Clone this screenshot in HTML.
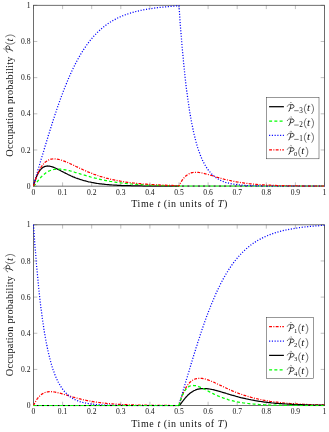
<!DOCTYPE html><html><head><meta charset="utf-8"><style>html,body{margin:0;padding:0;background:#fff}body{width:329px;height:432px;position:relative;overflow:hidden}</style></head><body><svg width="329" height="432" viewBox="0 0 329 432" style="position:absolute;left:0;top:0;will-change:transform">
<style>text{font-family:"Liberation Serif",serif;fill:#111}</style>
<path d="M33.50,186.15v-3.8M33.50,5.3v3.8" stroke="#808080" stroke-width="0.5"/>
<text x="33.50" y="194.55" font-size="7.6" text-anchor="middle">0</text>
<path d="M62.60,186.15v-3.8M62.60,5.3v3.8" stroke="#808080" stroke-width="0.5"/>
<text x="62.60" y="194.55" font-size="7.6" text-anchor="middle">0.1</text>
<path d="M91.70,186.15v-3.8M91.70,5.3v3.8" stroke="#808080" stroke-width="0.5"/>
<text x="91.70" y="194.55" font-size="7.6" text-anchor="middle">0.2</text>
<path d="M120.80,186.15v-3.8M120.80,5.3v3.8" stroke="#808080" stroke-width="0.5"/>
<text x="120.80" y="194.55" font-size="7.6" text-anchor="middle">0.3</text>
<path d="M149.90,186.15v-3.8M149.90,5.3v3.8" stroke="#808080" stroke-width="0.5"/>
<text x="149.90" y="194.55" font-size="7.6" text-anchor="middle">0.4</text>
<path d="M179.00,186.15v-3.8M179.00,5.3v3.8" stroke="#808080" stroke-width="0.5"/>
<text x="179.00" y="194.55" font-size="7.6" text-anchor="middle">0.5</text>
<path d="M208.10,186.15v-3.8M208.10,5.3v3.8" stroke="#808080" stroke-width="0.5"/>
<text x="208.10" y="194.55" font-size="7.6" text-anchor="middle">0.6</text>
<path d="M237.20,186.15v-3.8M237.20,5.3v3.8" stroke="#808080" stroke-width="0.5"/>
<text x="237.20" y="194.55" font-size="7.6" text-anchor="middle">0.7</text>
<path d="M266.30,186.15v-3.8M266.30,5.3v3.8" stroke="#808080" stroke-width="0.5"/>
<text x="266.30" y="194.55" font-size="7.6" text-anchor="middle">0.8</text>
<path d="M295.40,186.15v-3.8M295.40,5.3v3.8" stroke="#808080" stroke-width="0.5"/>
<text x="295.40" y="194.55" font-size="7.6" text-anchor="middle">0.9</text>
<path d="M324.50,186.15v-3.8M324.50,5.3v3.8" stroke="#808080" stroke-width="0.5"/>
<text x="324.50" y="194.55" font-size="7.6" text-anchor="middle">1</text>
<path d="M33.5,186.15h3.8M324.5,186.15h-3.8" stroke="#808080" stroke-width="0.5"/>
<text x="30.5" y="188.70" font-size="7.6" text-anchor="end">0</text>
<path d="M33.5,149.98h3.8M324.5,149.98h-3.8" stroke="#808080" stroke-width="0.5"/>
<text x="30.5" y="152.53" font-size="7.6" text-anchor="end">0.2</text>
<path d="M33.5,113.81h3.8M324.5,113.81h-3.8" stroke="#808080" stroke-width="0.5"/>
<text x="30.5" y="116.36" font-size="7.6" text-anchor="end">0.4</text>
<path d="M33.5,77.64h3.8M324.5,77.64h-3.8" stroke="#808080" stroke-width="0.5"/>
<text x="30.5" y="80.19" font-size="7.6" text-anchor="end">0.6</text>
<path d="M33.5,41.47h3.8M324.5,41.47h-3.8" stroke="#808080" stroke-width="0.5"/>
<text x="30.5" y="44.02" font-size="7.6" text-anchor="end">0.8</text>
<path d="M33.5,5.30h3.8M324.5,5.30h-3.8" stroke="#808080" stroke-width="0.5"/>
<text x="30.5" y="7.85" font-size="7.6" text-anchor="end">1</text>
<rect x="33.5" y="5.3" width="291.0" height="180.85" fill="none" stroke="#4a4a4a" stroke-width="0.8"/>
<clipPath id="c0"><rect x="32.8" y="4.6" width="292.4" height="182.25"/></clipPath>
<g clip-path="url(#c0)" fill="none" stroke-width="1.25">
<path d="M33.5 186.2L33.9 184.8L34.3 183.4L34.6 182.1L35.0 180.8L35.5 179.6L35.9 178.4L36.3 177.3L36.7 176.2L37.2 175.2L37.7 174.2L38.1 173.3L38.6 172.4L39.1 171.6L39.6 170.9L40.1 170.2L40.6 169.6L41.1 169.0L41.7 168.4L42.2 168.0L42.8 167.6L43.4 167.2L43.9 166.9L44.5 166.6L45.1 166.4L45.7 166.3L46.3 166.1L47.0 166.1L47.6 166.0L48.2 166.1L48.9 166.1L49.6 166.2L50.2 166.3L50.9 166.5L51.6 166.7L52.3 166.9L53.0 167.1L53.8 167.4L54.5 167.7L55.2 168.0L56.0 168.4L56.7 168.7L57.5 169.1L58.3 169.5L59.1 169.9L59.9 170.3L60.7 170.7L61.5 171.2L62.4 171.6L63.2 172.0L64.1 172.5L64.9 172.9L65.8 173.4L66.7 173.8L67.6 174.2L68.5 174.7L69.4 175.1L70.3 175.5L71.2 176.0L72.2 176.4L73.1 176.8L74.1 177.2L75.0 177.6L76.0 178.0L77.0 178.3L78.0 178.7L79.0 179.0L80.0 179.4L81.0 179.7L82.1 180.0L83.1 180.4L84.2 180.7L85.3 180.9L86.3 181.2L87.4 181.5L88.5 181.8L89.6 182.0L90.7 182.2L91.9 182.5L93.0 182.7L94.1 182.9L95.3 183.1L96.5 183.3L97.6 183.5L98.8 183.6L100.0 183.8L101.2 183.9L102.4 184.1L103.6 184.2L104.9 184.3L106.1 184.5L107.4 184.6L108.6 184.7L109.9 184.8L111.2 184.9L112.5 185.0L113.8 185.1L115.1 185.1L116.4 185.2L117.7 185.3L119.1 185.4L120.4 185.4L121.8 185.5L123.2 185.5L124.5 185.6L125.9 185.6L127.3 185.7L128.7 185.7L130.2 185.7L131.6 185.8L133.0 185.8L134.5 185.8L135.9 185.9L137.4 185.9L138.9 185.9L140.4 185.9L141.9 185.9L143.4 186.0L144.9 186.0L146.4 186.0L148.0 186.0L149.5 186.0L151.1 186.0L152.6 186.0L154.2 186.1L155.8 186.1L157.4 186.1L159.0 186.1L160.6 186.1L162.2 186.1L163.9 186.1L165.5 186.1L167.1 186.1L168.8 186.1L170.5 186.1L172.2 186.1L173.9 186.1L175.6 186.1L177.3 186.1L179.0 186.1" stroke="#000"/>
<path d="M179.0 186.2L179.4 186.2L179.8 186.2L180.1 186.2L180.5 186.2L181.0 186.2L181.4 186.2L181.8 186.2L182.2 186.2L182.7 186.2L183.2 186.2L183.6 186.2L184.1 186.2L184.6 186.2L185.1 186.2L185.6 186.2L186.1 186.2L186.6 186.2L187.2 186.2L187.7 186.2L188.3 186.2L188.9 186.2L189.4 186.2L190.0 186.2L190.6 186.2L191.2 186.2L191.8 186.2L192.5 186.2L193.1 186.2L193.7 186.2L194.4 186.2L195.1 186.2L195.7 186.2L196.4 186.2L197.1 186.2L197.8 186.2L198.5 186.2L199.3 186.2L200.0 186.2L200.7 186.2L201.5 186.2L202.2 186.2L203.0 186.2L203.8 186.2L204.6 186.2L205.4 186.2L206.2 186.2L207.0 186.2L207.9 186.2L208.7 186.2L209.6 186.2L210.4 186.2L211.3 186.2L212.2 186.2L213.1 186.2L214.0 186.2L214.9 186.2L215.8 186.2L216.7 186.2L217.7 186.2L218.6 186.2L219.6 186.2L220.5 186.2L221.5 186.2L222.5 186.2L223.5 186.2L224.5 186.2L225.5 186.2L226.5 186.2L227.6 186.2L228.6 186.2L229.7 186.2L230.8 186.2L231.8 186.2L232.9 186.2L234.0 186.2L235.1 186.2L236.2 186.2L237.4 186.2L238.5 186.2L239.6 186.2L240.8 186.2L242.0 186.2L243.1 186.2L244.3 186.2L245.5 186.2L246.7 186.2L247.9 186.2L249.1 186.2L250.4 186.2L251.6 186.2L252.9 186.2L254.1 186.2L255.4 186.2L256.7 186.2L258.0 186.2L259.3 186.2L260.6 186.2L261.9 186.2L263.2 186.2L264.6 186.2L265.9 186.2L267.3 186.2L268.7 186.2L270.0 186.2L271.4 186.2L272.8 186.2L274.2 186.2L275.7 186.2L277.1 186.2L278.5 186.2L280.0 186.2L281.4 186.2L282.9 186.2L284.4 186.2L285.9 186.2L287.4 186.2L288.9 186.2L290.4 186.2L291.9 186.2L293.5 186.2L295.0 186.2L296.6 186.2L298.1 186.2L299.7 186.2L301.3 186.2L302.9 186.2L304.5 186.2L306.1 186.2L307.7 186.2L309.4 186.2L311.0 186.2L312.6 186.2L314.3 186.2L316.0 186.2L317.7 186.2L319.4 186.2L321.1 186.2L322.8 186.2L324.5 186.2" stroke="#fff"/>
<path d="M179.0 186.2L179.4 186.2L179.8 186.2L180.1 186.2L180.5 186.2L181.0 186.2L181.4 186.2L181.8 186.2L182.2 186.2L182.7 186.2L183.2 186.2L183.6 186.2L184.1 186.2L184.6 186.2L185.1 186.2L185.6 186.2L186.1 186.2L186.6 186.2L187.2 186.2L187.7 186.2L188.3 186.2L188.9 186.2L189.4 186.2L190.0 186.2L190.6 186.2L191.2 186.2L191.8 186.2L192.5 186.2L193.1 186.2L193.7 186.2L194.4 186.2L195.1 186.2L195.7 186.2L196.4 186.2L197.1 186.2L197.8 186.2L198.5 186.2L199.3 186.2L200.0 186.2L200.7 186.2L201.5 186.2L202.2 186.2L203.0 186.2L203.8 186.2L204.6 186.2L205.4 186.2L206.2 186.2L207.0 186.2L207.9 186.2L208.7 186.2L209.6 186.2L210.4 186.2L211.3 186.2L212.2 186.2L213.1 186.2L214.0 186.2L214.9 186.2L215.8 186.2L216.7 186.2L217.7 186.2L218.6 186.2L219.6 186.2L220.5 186.2L221.5 186.2L222.5 186.2L223.5 186.2L224.5 186.2L225.5 186.2L226.5 186.2L227.6 186.2L228.6 186.2L229.7 186.2L230.8 186.2L231.8 186.2L232.9 186.2L234.0 186.2L235.1 186.2L236.2 186.2L237.4 186.2L238.5 186.2L239.6 186.2L240.8 186.2L242.0 186.2L243.1 186.2L244.3 186.2L245.5 186.2L246.7 186.2L247.9 186.2L249.1 186.2L250.4 186.2L251.6 186.2L252.9 186.2L254.1 186.2L255.4 186.2L256.7 186.2L258.0 186.2L259.3 186.2L260.6 186.2L261.9 186.2L263.2 186.2L264.6 186.2L265.9 186.2L267.3 186.2L268.7 186.2L270.0 186.2L271.4 186.2L272.8 186.2L274.2 186.2L275.7 186.2L277.1 186.2L278.5 186.2L280.0 186.2L281.4 186.2L282.9 186.2L284.4 186.2L285.9 186.2L287.4 186.2L288.9 186.2L290.4 186.2L291.9 186.2L293.5 186.2L295.0 186.2L296.6 186.2L298.1 186.2L299.7 186.2L301.3 186.2L302.9 186.2L304.5 186.2L306.1 186.2L307.7 186.2L309.4 186.2L311.0 186.2L312.6 186.2L314.3 186.2L316.0 186.2L317.7 186.2L319.4 186.2L321.1 186.2L322.8 186.2L324.5 186.2" stroke="#000" stroke-dasharray="2.25 3" stroke-dashoffset="2.25"/>
<path d="M33.5 186.2L33.9 185.9L34.3 185.5L34.6 185.1L35.0 184.6L35.5 184.1L35.9 183.5L36.3 183.0L36.7 182.4L37.2 181.8L37.7 181.2L38.1 180.6L38.6 180.0L39.1 179.4L39.6 178.8L40.1 178.2L40.6 177.6L41.1 177.0L41.7 176.5L42.2 175.9L42.8 175.4L43.4 174.9L43.9 174.4L44.5 173.9L45.1 173.4L45.7 173.0L46.3 172.6L47.0 172.2L47.6 171.8L48.2 171.4L48.9 171.1L49.6 170.8L50.2 170.5L50.9 170.3L51.6 170.0L52.3 169.8L53.0 169.6L53.8 169.5L54.5 169.4L55.2 169.3L56.0 169.2L56.7 169.1L57.5 169.1L58.3 169.1L59.1 169.1L59.9 169.1L60.7 169.2L61.5 169.3L62.4 169.4L63.2 169.5L64.1 169.6L64.9 169.8L65.8 169.9L66.7 170.1L67.6 170.3L68.5 170.5L69.4 170.7L70.3 171.0L71.2 171.2L72.2 171.5L73.1 171.8L74.1 172.0L75.0 172.3L76.0 172.6L77.0 172.9L78.0 173.2L79.0 173.5L80.0 173.8L81.0 174.1L82.1 174.4L83.1 174.8L84.2 175.1L85.3 175.4L86.3 175.7L87.4 176.0L88.5 176.3L89.6 176.6L90.7 177.0L91.9 177.3L93.0 177.6L94.1 177.9L95.3 178.2L96.5 178.4L97.6 178.7L98.8 179.0L100.0 179.3L101.2 179.6L102.4 179.8L103.6 180.1L104.9 180.3L106.1 180.6L107.4 180.8L108.6 181.0L109.9 181.3L111.2 181.5L112.5 181.7L113.8 181.9L115.1 182.1L116.4 182.3L117.7 182.5L119.1 182.7L120.4 182.8L121.8 183.0L123.2 183.2L124.5 183.3L125.9 183.5L127.3 183.6L128.7 183.7L130.2 183.9L131.6 184.0L133.0 184.1L134.5 184.2L135.9 184.3L137.4 184.4L138.9 184.5L140.4 184.6L141.9 184.7L143.4 184.8L144.9 184.9L146.4 185.0L148.0 185.0L149.5 185.1L151.1 185.2L152.6 185.2L154.2 185.3L155.8 185.3L157.4 185.4L159.0 185.4L160.6 185.5L162.2 185.5L163.9 185.6L165.5 185.6L167.1 185.7L168.8 185.7L170.5 185.7L172.2 185.7L173.9 185.8L175.6 185.8L177.3 185.8L179.0 185.9" stroke="#00ff00" stroke-dasharray="3 2.25"/>
<path d="M179.0 186.2L179.4 186.2L179.8 186.2L180.1 186.2L180.5 186.2L181.0 186.2L181.4 186.2L181.8 186.2L182.2 186.2L182.7 186.2L183.2 186.2L183.6 186.2L184.1 186.2L184.6 186.2L185.1 186.2L185.6 186.2L186.1 186.2L186.6 186.2L187.2 186.2L187.7 186.2L188.3 186.2L188.9 186.2L189.4 186.2L190.0 186.2L190.6 186.2L191.2 186.2L191.8 186.2L192.5 186.2L193.1 186.2L193.7 186.2L194.4 186.2L195.1 186.2L195.7 186.2L196.4 186.2L197.1 186.2L197.8 186.2L198.5 186.2L199.3 186.2L200.0 186.2L200.7 186.2L201.5 186.2L202.2 186.2L203.0 186.2L203.8 186.2L204.6 186.2L205.4 186.2L206.2 186.2L207.0 186.2L207.9 186.2L208.7 186.2L209.6 186.2L210.4 186.2L211.3 186.2L212.2 186.2L213.1 186.2L214.0 186.2L214.9 186.2L215.8 186.2L216.7 186.2L217.7 186.2L218.6 186.2L219.6 186.2L220.5 186.2L221.5 186.2L222.5 186.2L223.5 186.2L224.5 186.2L225.5 186.2L226.5 186.2L227.6 186.2L228.6 186.2L229.7 186.2L230.8 186.2L231.8 186.2L232.9 186.2L234.0 186.2L235.1 186.2L236.2 186.2L237.4 186.2L238.5 186.2L239.6 186.2L240.8 186.2L242.0 186.2L243.1 186.2L244.3 186.2L245.5 186.2L246.7 186.2L247.9 186.2L249.1 186.2L250.4 186.2L251.6 186.2L252.9 186.2L254.1 186.2L255.4 186.2L256.7 186.2L258.0 186.2L259.3 186.2L260.6 186.2L261.9 186.2L263.2 186.2L264.6 186.2L265.9 186.2L267.3 186.2L268.7 186.2L270.0 186.2L271.4 186.2L272.8 186.2L274.2 186.2L275.7 186.2L277.1 186.2L278.5 186.2L280.0 186.2L281.4 186.2L282.9 186.2L284.4 186.2L285.9 186.2L287.4 186.2L288.9 186.2L290.4 186.2L291.9 186.2L293.5 186.2L295.0 186.2L296.6 186.2L298.1 186.2L299.7 186.2L301.3 186.2L302.9 186.2L304.5 186.2L306.1 186.2L307.7 186.2L309.4 186.2L311.0 186.2L312.6 186.2L314.3 186.2L316.0 186.2L317.7 186.2L319.4 186.2L321.1 186.2L322.8 186.2L324.5 186.2" stroke="#00ff00" stroke-dasharray="3 2.25"/>
<path d="M33.5 186.2L33.9 184.6L34.3 183.1L34.6 181.6L35.0 180.2L35.5 178.7L35.9 177.2L36.3 175.7L36.7 174.2L37.2 172.7L37.7 171.1L38.1 169.5L38.6 167.9L39.1 166.3L39.6 164.6L40.1 162.9L40.6 161.2L41.1 159.4L41.7 157.6L42.2 155.8L42.8 154.0L43.4 152.1L43.9 150.2L44.5 148.2L45.1 146.3L45.7 144.3L46.3 142.2L47.0 140.2L47.6 138.1L48.2 136.0L48.9 133.9L49.6 131.8L50.2 129.6L50.9 127.4L51.6 125.2L52.3 123.0L53.0 120.8L53.8 118.6L54.5 116.3L55.2 114.1L56.0 111.8L56.7 109.6L57.5 107.3L58.3 105.0L59.1 102.8L59.9 100.5L60.7 98.3L61.5 96.1L62.4 93.8L63.2 91.6L64.1 89.4L64.9 87.2L65.8 85.0L66.7 82.9L67.6 80.8L68.5 78.6L69.4 76.5L70.3 74.5L71.2 72.4L72.2 70.4L73.1 68.4L74.1 66.5L75.0 64.6L76.0 62.7L77.0 60.8L78.0 59.0L79.0 57.2L80.0 55.4L81.0 53.7L82.1 52.0L83.1 50.3L84.2 48.7L85.3 47.1L86.3 45.6L87.4 44.1L88.5 42.6L89.6 41.2L90.7 39.8L91.9 38.4L93.0 37.1L94.1 35.8L95.3 34.6L96.5 33.4L97.6 32.2L98.8 31.1L100.0 30.0L101.2 28.9L102.4 27.9L103.6 26.9L104.9 25.9L106.1 25.0L107.4 24.1L108.6 23.2L109.9 22.4L111.2 21.6L112.5 20.8L113.8 20.1L115.1 19.4L116.4 18.7L117.7 18.0L119.1 17.4L120.4 16.8L121.8 16.2L123.2 15.6L124.5 15.1L125.9 14.6L127.3 14.1L128.7 13.6L130.2 13.2L131.6 12.7L133.0 12.3L134.5 11.9L135.9 11.5L137.4 11.2L138.9 10.8L140.4 10.5L141.9 10.2L143.4 9.9L144.9 9.6L146.4 9.3L148.0 9.1L149.5 8.8L151.1 8.6L152.6 8.4L154.2 8.1L155.8 7.9L157.4 7.7L159.0 7.5L160.6 7.4L162.2 7.2L163.9 7.0L165.5 6.9L167.1 6.7L168.8 6.6L170.5 6.4L172.2 6.3L173.9 6.2L175.6 6.0L177.3 5.9L179.0 5.8L179.0 5.8L179.4 11.2L179.8 16.7L180.1 22.0L180.5 27.4L181.0 32.7L181.4 37.9L181.8 43.0L182.2 48.1L182.7 53.2L183.2 58.1L183.6 63.0L184.1 67.7L184.6 72.4L185.1 77.0L185.6 81.5L186.1 85.9L186.6 90.1L187.2 94.3L187.7 98.4L188.3 102.3L188.9 106.1L189.4 109.8L190.0 113.5L190.6 116.9L191.2 120.3L191.8 123.6L192.5 126.7L193.1 129.8L193.7 132.7L194.4 135.5L195.1 138.2L195.7 140.8L196.4 143.3L197.1 145.7L197.8 148.0L198.5 150.1L199.3 152.2L200.0 154.2L200.7 156.1L201.5 157.9L202.2 159.6L203.0 161.3L203.8 162.8L204.6 164.3L205.4 165.7L206.2 167.0L207.0 168.3L207.9 169.5L208.7 170.6L209.6 171.6L210.4 172.6L211.3 173.6L212.2 174.5L213.1 175.3L214.0 176.1L214.9 176.8L215.8 177.5L216.7 178.1L217.7 178.7L218.6 179.3L219.6 179.8L220.5 180.3L221.5 180.7L222.5 181.2L223.5 181.6L224.5 181.9L225.5 182.3L226.5 182.6L227.6 182.9L228.6 183.1L229.7 183.4L230.8 183.6L231.8 183.8L232.9 184.0L234.0 184.2L235.1 184.4L236.2 184.5L237.4 184.7L238.5 184.8L239.6 184.9L240.8 185.0L242.0 185.1L243.1 185.2L244.3 185.3L245.5 185.4L246.7 185.5L247.9 185.5L249.1 185.6L250.4 185.6L251.6 185.7L252.9 185.7L254.1 185.8L255.4 185.8L256.7 185.9L258.0 185.9L259.3 185.9L260.6 185.9L261.9 186.0L263.2 186.0L264.6 186.0L265.9 186.0L267.3 186.0L268.7 186.0L270.0 186.1L271.4 186.1L272.8 186.1L274.2 186.1L275.7 186.1L277.1 186.1L278.5 186.1L280.0 186.1L281.4 186.1L282.9 186.1L284.4 186.1L285.9 186.1L287.4 186.1L288.9 186.1L290.4 186.1L291.9 186.1L293.5 186.1L295.0 186.1L296.6 186.1L298.1 186.1L299.7 186.1L301.3 186.1L302.9 186.1L304.5 186.1L306.1 186.1L307.7 186.1L309.4 186.1L311.0 186.1L312.6 186.1L314.3 186.1L316.0 186.1L317.7 186.1L319.4 186.1L321.1 186.1L322.8 186.1L324.5 186.1" stroke="#0000ff" stroke-dasharray="1.1 1.65"/>
<path d="M33.5 186.2L33.9 184.8L34.3 183.5L34.6 182.2L35.0 181.0L35.5 179.7L35.9 178.5L36.3 177.3L36.7 176.1L37.2 175.0L37.7 173.9L38.1 172.8L38.6 171.8L39.1 170.8L39.6 169.8L40.1 168.9L40.6 168.0L41.1 167.1L41.7 166.3L42.2 165.6L42.8 164.8L43.4 164.1L43.9 163.5L44.5 162.9L45.1 162.3L45.7 161.8L46.3 161.4L47.0 160.9L47.6 160.5L48.2 160.2L48.9 159.9L49.6 159.6L50.2 159.4L50.9 159.2L51.6 159.1L52.3 159.0L53.0 158.9L53.8 158.8L54.5 158.8L55.2 158.9L56.0 158.9L56.7 159.0L57.5 159.2L58.3 159.3L59.1 159.5L59.9 159.7L60.7 159.9L61.5 160.2L62.4 160.5L63.2 160.8L64.1 161.1L64.9 161.4L65.8 161.8L66.7 162.1L67.6 162.5L68.5 162.9L69.4 163.3L70.3 163.8L71.2 164.2L72.2 164.6L73.1 165.1L74.1 165.5L75.0 166.0L76.0 166.5L77.0 166.9L78.0 167.4L79.0 167.9L80.0 168.4L81.0 168.8L82.1 169.3L83.1 169.8L84.2 170.3L85.3 170.7L86.3 171.2L87.4 171.6L88.5 172.1L89.6 172.5L90.7 173.0L91.9 173.4L93.0 173.9L94.1 174.3L95.3 174.7L96.5 175.1L97.6 175.5L98.8 175.9L100.0 176.3L101.2 176.6L102.4 177.0L103.6 177.4L104.9 177.7L106.1 178.1L107.4 178.4L108.6 178.7L109.9 179.0L111.2 179.3L112.5 179.6L113.8 179.9L115.1 180.2L116.4 180.4L117.7 180.7L119.1 180.9L120.4 181.2L121.8 181.4L123.2 181.6L124.5 181.9L125.9 182.1L127.3 182.3L128.7 182.4L130.2 182.6L131.6 182.8L133.0 183.0L134.5 183.1L135.9 183.3L137.4 183.4L138.9 183.6L140.4 183.7L141.9 183.9L143.4 184.0L144.9 184.1L146.4 184.2L148.0 184.3L149.5 184.4L151.1 184.5L152.6 184.6L154.2 184.7L155.8 184.8L157.4 184.9L159.0 184.9L160.6 185.0L162.2 185.1L163.9 185.1L165.5 185.2L167.1 185.3L168.8 185.3L170.5 185.4L172.2 185.4L173.9 185.5L175.6 185.5L177.3 185.5L179.0 185.6L179.0 186.2L179.4 185.3L179.8 184.5L180.1 183.8L180.5 183.0L181.0 182.3L181.4 181.5L181.8 180.8L182.2 180.2L182.7 179.5L183.2 178.9L183.6 178.3L184.1 177.7L184.6 177.2L185.1 176.7L185.6 176.2L186.1 175.7L186.6 175.3L187.2 174.9L187.7 174.5L188.3 174.2L188.9 173.9L189.4 173.6L190.0 173.3L190.6 173.1L191.2 172.9L191.8 172.7L192.5 172.6L193.1 172.5L193.7 172.4L194.4 172.3L195.1 172.3L195.7 172.3L196.4 172.3L197.1 172.3L197.8 172.3L198.5 172.4L199.3 172.5L200.0 172.6L200.7 172.7L201.5 172.9L202.2 173.0L203.0 173.2L203.8 173.4L204.6 173.6L205.4 173.8L206.2 174.0L207.0 174.2L207.9 174.5L208.7 174.7L209.6 174.9L210.4 175.2L211.3 175.5L212.2 175.7L213.1 176.0L214.0 176.3L214.9 176.5L215.8 176.8L216.7 177.1L217.7 177.4L218.6 177.6L219.6 177.9L220.5 178.2L221.5 178.5L222.5 178.7L223.5 179.0L224.5 179.3L225.5 179.5L226.5 179.8L227.6 180.0L228.6 180.3L229.7 180.5L230.8 180.7L231.8 181.0L232.9 181.2L234.0 181.4L235.1 181.6L236.2 181.8L237.4 182.0L238.5 182.2L239.6 182.4L240.8 182.6L242.0 182.7L243.1 182.9L244.3 183.1L245.5 183.2L246.7 183.4L247.9 183.5L249.1 183.7L250.4 183.8L251.6 183.9L252.9 184.1L254.1 184.2L255.4 184.3L256.7 184.4L258.0 184.5L259.3 184.6L260.6 184.7L261.9 184.8L263.2 184.9L264.6 184.9L265.9 185.0L267.3 185.1L268.7 185.2L270.0 185.2L271.4 185.3L272.8 185.3L274.2 185.4L275.7 185.4L277.1 185.5L278.5 185.5L280.0 185.6L281.4 185.6L282.9 185.7L284.4 185.7L285.9 185.7L287.4 185.8L288.9 185.8L290.4 185.8L291.9 185.8L293.5 185.9L295.0 185.9L296.6 185.9L298.1 185.9L299.7 185.9L301.3 186.0L302.9 186.0L304.5 186.0L306.1 186.0L307.7 186.0L309.4 186.0L311.0 186.0L312.6 186.0L314.3 186.0L316.0 186.1L317.7 186.1L319.4 186.1L321.1 186.1L322.8 186.1L324.5 186.1" stroke="#ff0000" stroke-dasharray="2.9 1.35 1.0 1.35"/>
</g>
<text x="179.25" y="207.35" font-size="10" text-anchor="middle" textLength="96" lengthAdjust="spacing">Time <tspan font-style="italic">t</tspan> (in units of <tspan font-style="italic">T</tspan>)</text>
<g transform="translate(12.8,156.73) rotate(-90)">
<text x="0" y="0" font-size="10.3" textLength="100.2" lengthAdjust="spacing">Occupation probability</text>
<g transform="translate(104.00,0.00) scale(1.0)" fill="none" stroke="#111" stroke-linecap="round" stroke-linejoin="round"><path d="M3.9,-6.5 C3.6,-4.4 3.0,-2.1 2.3,-0.5 C2.2,-0.3 2.0,-0.2 1.8,-0.2" stroke-width="0.85"/><path d="M0.3,-5.1 C0.5,-6.2 1.9,-6.9 3.9,-6.9 C4.9,-6.9 5.6,-6.75 6.1,-6.5" stroke-width="0.6"/><path d="M5.6,-6.7 C6.5,-6.4 7.0,-5.8 7.0,-5.0 C7.0,-3.7 5.6,-2.9 3.3,-3.0" stroke-width="0.78"/><path d="M3.2,-8.5 L3.9,-9.2 L4.6,-8.5" stroke-width="0.45"/></g>
<path d="M114.50,-7.50C113.20,-5.80 112.60,-4.20 112.60,-2.50C112.60,-0.80 113.20,0.80 114.50,2.50" fill="none" stroke="#111" stroke-width="0.6"/><text x="115.20" y="0.00" font-size="11" font-style="italic">t</text><path d="M119.80,-7.50C121.10,-5.80 121.70,-4.20 121.70,-2.50C121.70,-0.80 121.10,0.80 119.80,2.50" fill="none" stroke="#111" stroke-width="0.6"/>
</g>
<path d="M33.50,405.55v-3.8M33.50,224.8v3.8" stroke="#808080" stroke-width="0.5"/>
<text x="33.50" y="413.95" font-size="7.6" text-anchor="middle">0</text>
<path d="M62.60,405.55v-3.8M62.60,224.8v3.8" stroke="#808080" stroke-width="0.5"/>
<text x="62.60" y="413.95" font-size="7.6" text-anchor="middle">0.1</text>
<path d="M91.70,405.55v-3.8M91.70,224.8v3.8" stroke="#808080" stroke-width="0.5"/>
<text x="91.70" y="413.95" font-size="7.6" text-anchor="middle">0.2</text>
<path d="M120.80,405.55v-3.8M120.80,224.8v3.8" stroke="#808080" stroke-width="0.5"/>
<text x="120.80" y="413.95" font-size="7.6" text-anchor="middle">0.3</text>
<path d="M149.90,405.55v-3.8M149.90,224.8v3.8" stroke="#808080" stroke-width="0.5"/>
<text x="149.90" y="413.95" font-size="7.6" text-anchor="middle">0.4</text>
<path d="M179.00,405.55v-3.8M179.00,224.8v3.8" stroke="#808080" stroke-width="0.5"/>
<text x="179.00" y="413.95" font-size="7.6" text-anchor="middle">0.5</text>
<path d="M208.10,405.55v-3.8M208.10,224.8v3.8" stroke="#808080" stroke-width="0.5"/>
<text x="208.10" y="413.95" font-size="7.6" text-anchor="middle">0.6</text>
<path d="M237.20,405.55v-3.8M237.20,224.8v3.8" stroke="#808080" stroke-width="0.5"/>
<text x="237.20" y="413.95" font-size="7.6" text-anchor="middle">0.7</text>
<path d="M266.30,405.55v-3.8M266.30,224.8v3.8" stroke="#808080" stroke-width="0.5"/>
<text x="266.30" y="413.95" font-size="7.6" text-anchor="middle">0.8</text>
<path d="M295.40,405.55v-3.8M295.40,224.8v3.8" stroke="#808080" stroke-width="0.5"/>
<text x="295.40" y="413.95" font-size="7.6" text-anchor="middle">0.9</text>
<path d="M324.50,405.55v-3.8M324.50,224.8v3.8" stroke="#808080" stroke-width="0.5"/>
<text x="324.50" y="413.95" font-size="7.6" text-anchor="middle">1</text>
<path d="M33.5,405.55h3.8M324.5,405.55h-3.8" stroke="#808080" stroke-width="0.5"/>
<text x="30.5" y="408.10" font-size="7.6" text-anchor="end">0</text>
<path d="M33.5,369.40h3.8M324.5,369.40h-3.8" stroke="#808080" stroke-width="0.5"/>
<text x="30.5" y="371.95" font-size="7.6" text-anchor="end">0.2</text>
<path d="M33.5,333.25h3.8M324.5,333.25h-3.8" stroke="#808080" stroke-width="0.5"/>
<text x="30.5" y="335.80" font-size="7.6" text-anchor="end">0.4</text>
<path d="M33.5,297.10h3.8M324.5,297.10h-3.8" stroke="#808080" stroke-width="0.5"/>
<text x="30.5" y="299.65" font-size="7.6" text-anchor="end">0.6</text>
<path d="M33.5,260.95h3.8M324.5,260.95h-3.8" stroke="#808080" stroke-width="0.5"/>
<text x="30.5" y="263.50" font-size="7.6" text-anchor="end">0.8</text>
<path d="M33.5,224.80h3.8M324.5,224.80h-3.8" stroke="#808080" stroke-width="0.5"/>
<text x="30.5" y="227.35" font-size="7.6" text-anchor="end">1</text>
<rect x="33.5" y="224.8" width="291.0" height="180.75" fill="none" stroke="#4a4a4a" stroke-width="0.8"/>
<clipPath id="c1"><rect x="32.8" y="224.10000000000002" width="292.4" height="182.15"/></clipPath>
<g clip-path="url(#c1)" fill="none" stroke-width="1.25">
<path d="M33.5 405.6L33.9 405.6L34.3 405.6L34.6 405.6L35.0 405.6L35.5 405.6L35.9 405.6L36.3 405.6L36.7 405.6L37.2 405.6L37.7 405.6L38.1 405.6L38.6 405.6L39.1 405.6L39.6 405.6L40.1 405.6L40.6 405.6L41.1 405.6L41.7 405.6L42.2 405.6L42.8 405.6L43.4 405.6L43.9 405.6L44.5 405.6L45.1 405.6L45.7 405.6L46.3 405.6L47.0 405.6L47.6 405.6L48.2 405.6L48.9 405.6L49.6 405.6L50.2 405.6L50.9 405.6L51.6 405.6L52.3 405.6L53.0 405.6L53.8 405.6L54.5 405.6L55.2 405.6L56.0 405.6L56.7 405.6L57.5 405.6L58.3 405.6L59.1 405.6L59.9 405.6L60.7 405.6L61.5 405.6L62.4 405.6L63.2 405.6L64.1 405.6L64.9 405.6L65.8 405.6L66.7 405.6L67.6 405.6L68.5 405.6L69.4 405.6L70.3 405.6L71.2 405.6L72.2 405.6L73.1 405.6L74.1 405.6L75.0 405.6L76.0 405.6L77.0 405.6L78.0 405.6L79.0 405.6L80.0 405.6L81.0 405.6L82.1 405.6L83.1 405.6L84.2 405.6L85.3 405.6L86.3 405.6L87.4 405.6L88.5 405.6L89.6 405.6L90.7 405.6L91.9 405.6L93.0 405.6L94.1 405.6L95.3 405.6L96.5 405.6L97.6 405.6L98.8 405.6L100.0 405.6L101.2 405.6L102.4 405.6L103.6 405.6L104.9 405.6L106.1 405.6L107.4 405.6L108.6 405.6L109.9 405.6L111.2 405.6L112.5 405.6L113.8 405.6L115.1 405.6L116.4 405.6L117.7 405.6L119.1 405.6L120.4 405.6L121.8 405.6L123.2 405.6L124.5 405.6L125.9 405.6L127.3 405.6L128.7 405.6L130.2 405.6L131.6 405.6L133.0 405.6L134.5 405.6L135.9 405.6L137.4 405.6L138.9 405.6L140.4 405.6L141.9 405.6L143.4 405.6L144.9 405.6L146.4 405.6L148.0 405.6L149.5 405.6L151.1 405.6L152.6 405.6L154.2 405.6L155.8 405.6L157.4 405.6L159.0 405.6L160.6 405.6L162.2 405.6L163.9 405.6L165.5 405.6L167.1 405.6L168.8 405.6L170.5 405.6L172.2 405.6L173.9 405.6L175.6 405.6L177.3 405.6L179.0 405.6" stroke="#fff"/>
<path d="M33.5 405.6L33.9 404.7L34.3 403.9L34.6 403.2L35.0 402.4L35.5 401.7L35.9 400.9L36.3 400.3L36.7 399.6L37.2 398.9L37.7 398.3L38.1 397.7L38.6 397.1L39.1 396.6L39.6 396.1L40.1 395.6L40.6 395.1L41.1 394.7L41.7 394.3L42.2 393.9L42.8 393.6L43.4 393.3L43.9 393.0L44.5 392.7L45.1 392.5L45.7 392.3L46.3 392.1L47.0 392.0L47.6 391.9L48.2 391.8L48.9 391.7L49.6 391.7L50.2 391.7L50.9 391.7L51.6 391.7L52.3 391.8L53.0 391.8L53.8 391.9L54.5 392.0L55.2 392.1L56.0 392.3L56.7 392.4L57.5 392.6L58.3 392.8L59.1 393.0L59.9 393.2L60.7 393.4L61.5 393.6L62.4 393.9L63.2 394.1L64.1 394.4L64.9 394.6L65.8 394.9L66.7 395.1L67.6 395.4L68.5 395.7L69.4 395.9L70.3 396.2L71.2 396.5L72.2 396.8L73.1 397.1L74.1 397.3L75.0 397.6L76.0 397.9L77.0 398.1L78.0 398.4L79.0 398.7L80.0 398.9L81.0 399.2L82.1 399.4L83.1 399.7L84.2 399.9L85.3 400.1L86.3 400.4L87.4 400.6L88.5 400.8L89.6 401.0L90.7 401.2L91.9 401.4L93.0 401.6L94.1 401.8L95.3 402.0L96.5 402.2L97.6 402.3L98.8 402.5L100.0 402.6L101.2 402.8L102.4 402.9L103.6 403.1L104.9 403.2L106.1 403.3L107.4 403.5L108.6 403.6L109.9 403.7L111.2 403.8L112.5 403.9L113.8 404.0L115.1 404.1L116.4 404.2L117.7 404.3L119.1 404.3L120.4 404.4L121.8 404.5L123.2 404.6L124.5 404.6L125.9 404.7L127.3 404.7L128.7 404.8L130.2 404.8L131.6 404.9L133.0 404.9L134.5 405.0L135.9 405.0L137.4 405.1L138.9 405.1L140.4 405.1L141.9 405.2L143.4 405.2L144.9 405.2L146.4 405.2L148.0 405.3L149.5 405.3L151.1 405.3L152.6 405.3L154.2 405.3L155.8 405.4L157.4 405.4L159.0 405.4L160.6 405.4L162.2 405.4L163.9 405.4L165.5 405.4L167.1 405.4L168.8 405.4L170.5 405.5L172.2 405.5L173.9 405.5L175.6 405.5L177.3 405.5L179.0 405.5L179.0 405.6L179.4 404.2L179.8 402.9L180.1 401.6L180.5 400.4L181.0 399.1L181.4 397.9L181.8 396.7L182.2 395.6L182.7 394.4L183.2 393.3L183.6 392.2L184.1 391.2L184.6 390.2L185.1 389.2L185.6 388.3L186.1 387.4L186.6 386.6L187.2 385.7L187.7 385.0L188.3 384.2L188.9 383.6L189.4 382.9L190.0 382.3L190.6 381.8L191.2 381.2L191.8 380.8L192.5 380.3L193.1 380.0L193.7 379.6L194.4 379.3L195.1 379.0L195.7 378.8L196.4 378.6L197.1 378.5L197.8 378.4L198.5 378.3L199.3 378.3L200.0 378.3L200.7 378.3L201.5 378.3L202.2 378.4L203.0 378.6L203.8 378.7L204.6 378.9L205.4 379.1L206.2 379.3L207.0 379.6L207.9 379.9L208.7 380.2L209.6 380.5L210.4 380.8L211.3 381.2L212.2 381.6L213.1 381.9L214.0 382.3L214.9 382.8L215.8 383.2L216.7 383.6L217.7 384.1L218.6 384.5L219.6 385.0L220.5 385.4L221.5 385.9L222.5 386.4L223.5 386.8L224.5 387.3L225.5 387.8L226.5 388.2L227.6 388.7L228.6 389.2L229.7 389.7L230.8 390.1L231.8 390.6L232.9 391.1L234.0 391.5L235.1 392.0L236.2 392.4L237.4 392.8L238.5 393.3L239.6 393.7L240.8 394.1L242.0 394.5L243.1 394.9L244.3 395.3L245.5 395.7L246.7 396.1L247.9 396.4L249.1 396.8L250.4 397.1L251.6 397.5L252.9 397.8L254.1 398.1L255.4 398.4L256.7 398.7L258.0 399.0L259.3 399.3L260.6 399.6L261.9 399.8L263.2 400.1L264.6 400.3L265.9 400.6L267.3 400.8L268.7 401.0L270.0 401.3L271.4 401.5L272.8 401.7L274.2 401.9L275.7 402.0L277.1 402.2L278.5 402.4L280.0 402.5L281.4 402.7L282.9 402.8L284.4 403.0L285.9 403.1L287.4 403.3L288.9 403.4L290.4 403.5L291.9 403.6L293.5 403.7L295.0 403.8L296.6 403.9L298.1 404.0L299.7 404.1L301.3 404.2L302.9 404.3L304.5 404.3L306.1 404.4L307.7 404.5L309.4 404.5L311.0 404.6L312.6 404.7L314.3 404.7L316.0 404.8L317.7 404.8L319.4 404.9L321.1 404.9L322.8 404.9L324.5 405.0" stroke="#ff0000" stroke-dasharray="2.9 1.35 1.0 1.35"/>
<path d="M33.5 224.8L33.9 230.3L34.3 235.7L34.6 241.1L35.0 246.4L35.5 251.7L35.9 256.9L36.3 262.1L36.7 267.2L37.2 272.3L37.7 277.2L38.1 282.1L38.6 286.9L39.1 291.6L39.6 296.2L40.1 300.6L40.6 305.0L41.1 309.3L41.7 313.5L42.2 317.6L42.8 321.5L43.4 325.3L43.9 329.1L44.5 332.7L45.1 336.2L45.7 339.6L46.3 342.8L47.0 346.0L47.6 349.0L48.2 352.0L48.9 354.8L49.6 357.5L50.2 360.1L50.9 362.6L51.6 365.0L52.3 367.3L53.0 369.5L53.8 371.5L54.5 373.5L55.2 375.4L56.0 377.3L56.7 379.0L57.5 380.6L58.3 382.2L59.1 383.7L59.9 385.1L60.7 386.4L61.5 387.6L62.4 388.8L63.2 390.0L64.1 391.0L64.9 392.0L65.8 392.9L66.7 393.8L67.6 394.7L68.5 395.4L69.4 396.2L70.3 396.9L71.2 397.5L72.2 398.1L73.1 398.7L74.1 399.2L75.0 399.7L76.0 400.1L77.0 400.5L78.0 400.9L79.0 401.3L80.0 401.7L81.0 402.0L82.1 402.3L83.1 402.5L84.2 402.8L85.3 403.0L86.3 403.2L87.4 403.4L88.5 403.6L89.6 403.8L90.7 403.9L91.9 404.1L93.0 404.2L94.1 404.3L95.3 404.4L96.5 404.5L97.6 404.6L98.8 404.7L100.0 404.8L101.2 404.9L102.4 404.9L103.6 405.0L104.9 405.0L106.1 405.1L107.4 405.1L108.6 405.2L109.9 405.2L111.2 405.3L112.5 405.3L113.8 405.3L115.1 405.3L116.4 405.4L117.7 405.4L119.1 405.4L120.4 405.4L121.8 405.4L123.2 405.4L124.5 405.5L125.9 405.5L127.3 405.5L128.7 405.5L130.2 405.5L131.6 405.5L133.0 405.5L134.5 405.5L135.9 405.5L137.4 405.5L138.9 405.5L140.4 405.5L141.9 405.5L143.4 405.5L144.9 405.5L146.4 405.5L148.0 405.5L149.5 405.5L151.1 405.5L152.6 405.5L154.2 405.5L155.8 405.5L157.4 405.5L159.0 405.5L160.6 405.5L162.2 405.5L163.9 405.5L165.5 405.5L167.1 405.5L168.8 405.5L170.5 405.5L172.2 405.5L173.9 405.5L175.6 405.5L177.3 405.5L179.0 405.5L179.0 405.6L179.4 404.0L179.8 402.5L180.1 401.0L180.5 399.6L181.0 398.1L181.4 396.6L181.8 395.1L182.2 393.6L182.7 392.1L183.2 390.5L183.6 388.9L184.1 387.3L184.6 385.7L185.1 384.0L185.6 382.3L186.1 380.6L186.6 378.8L187.2 377.0L187.7 375.2L188.3 373.4L188.9 371.5L189.4 369.6L190.0 367.6L190.6 365.7L191.2 363.7L191.8 361.7L192.5 359.6L193.1 357.5L193.7 355.4L194.4 353.3L195.1 351.2L195.7 349.0L196.4 346.8L197.1 344.7L197.8 342.4L198.5 340.2L199.3 338.0L200.0 335.8L200.7 333.5L201.5 331.3L202.2 329.0L203.0 326.7L203.8 324.5L204.6 322.2L205.4 320.0L206.2 317.7L207.0 315.5L207.9 313.3L208.7 311.1L209.6 308.9L210.4 306.7L211.3 304.5L212.2 302.3L213.1 300.2L214.0 298.1L214.9 296.0L215.8 293.9L216.7 291.9L217.7 289.9L218.6 287.9L219.6 286.0L220.5 284.0L221.5 282.1L222.5 280.3L223.5 278.4L224.5 276.6L225.5 274.9L226.5 273.2L227.6 271.5L228.6 269.8L229.7 268.2L230.8 266.6L231.8 265.1L232.9 263.6L234.0 262.1L235.1 260.7L236.2 259.3L237.4 257.9L238.5 256.6L239.6 255.3L240.8 254.1L242.0 252.9L243.1 251.7L244.3 250.6L245.5 249.5L246.7 248.4L247.9 247.4L249.1 246.4L250.4 245.4L251.6 244.5L252.9 243.6L254.1 242.7L255.4 241.9L256.7 241.1L258.0 240.3L259.3 239.6L260.6 238.9L261.9 238.2L263.2 237.5L264.6 236.9L265.9 236.3L267.3 235.7L268.7 235.1L270.0 234.6L271.4 234.1L272.8 233.6L274.2 233.1L275.7 232.6L277.1 232.2L278.5 231.8L280.0 231.4L281.4 231.0L282.9 230.7L284.4 230.3L285.9 230.0L287.4 229.7L288.9 229.4L290.4 229.1L291.9 228.8L293.5 228.6L295.0 228.3L296.6 228.1L298.1 227.9L299.7 227.6L301.3 227.4L302.9 227.2L304.5 227.0L306.1 226.9L307.7 226.7L309.4 226.5L311.0 226.4L312.6 226.2L314.3 226.1L316.0 225.9L317.7 225.8L319.4 225.7L321.1 225.5L322.8 225.4L324.5 225.3" stroke="#0000ff" stroke-dasharray="1.1 1.65"/>
<path d="M33.5 405.6L33.9 405.6L34.3 405.6L34.6 405.6L35.0 405.6L35.5 405.6L35.9 405.6L36.3 405.6L36.7 405.6L37.2 405.6L37.7 405.6L38.1 405.6L38.6 405.6L39.1 405.6L39.6 405.6L40.1 405.6L40.6 405.6L41.1 405.6L41.7 405.6L42.2 405.6L42.8 405.6L43.4 405.6L43.9 405.6L44.5 405.6L45.1 405.6L45.7 405.6L46.3 405.6L47.0 405.6L47.6 405.6L48.2 405.6L48.9 405.6L49.6 405.6L50.2 405.6L50.9 405.6L51.6 405.6L52.3 405.6L53.0 405.6L53.8 405.6L54.5 405.6L55.2 405.6L56.0 405.6L56.7 405.6L57.5 405.6L58.3 405.6L59.1 405.6L59.9 405.6L60.7 405.6L61.5 405.6L62.4 405.6L63.2 405.6L64.1 405.6L64.9 405.6L65.8 405.6L66.7 405.6L67.6 405.6L68.5 405.6L69.4 405.6L70.3 405.6L71.2 405.6L72.2 405.6L73.1 405.6L74.1 405.6L75.0 405.6L76.0 405.6L77.0 405.6L78.0 405.6L79.0 405.6L80.0 405.6L81.0 405.6L82.1 405.6L83.1 405.6L84.2 405.6L85.3 405.6L86.3 405.6L87.4 405.6L88.5 405.6L89.6 405.6L90.7 405.6L91.9 405.6L93.0 405.6L94.1 405.6L95.3 405.6L96.5 405.6L97.6 405.6L98.8 405.6L100.0 405.6L101.2 405.6L102.4 405.6L103.6 405.6L104.9 405.6L106.1 405.6L107.4 405.6L108.6 405.6L109.9 405.6L111.2 405.6L112.5 405.6L113.8 405.6L115.1 405.6L116.4 405.6L117.7 405.6L119.1 405.6L120.4 405.6L121.8 405.6L123.2 405.6L124.5 405.6L125.9 405.6L127.3 405.6L128.7 405.6L130.2 405.6L131.6 405.6L133.0 405.6L134.5 405.6L135.9 405.6L137.4 405.6L138.9 405.6L140.4 405.6L141.9 405.6L143.4 405.6L144.9 405.6L146.4 405.6L148.0 405.6L149.5 405.6L151.1 405.6L152.6 405.6L154.2 405.6L155.8 405.6L157.4 405.6L159.0 405.6L160.6 405.6L162.2 405.6L163.9 405.6L165.5 405.6L167.1 405.6L168.8 405.6L170.5 405.6L172.2 405.6L173.9 405.6L175.6 405.6L177.3 405.6L179.0 405.6" stroke="#000" stroke-dasharray="2.25 3" stroke-dashoffset="2.25"/>
<path d="M179.0 405.6L179.4 405.3L179.8 404.9L180.1 404.5L180.5 404.0L181.0 403.5L181.4 402.9L181.8 402.4L182.2 401.8L182.7 401.2L183.2 400.6L183.6 400.0L184.1 399.4L184.6 398.8L185.1 398.2L185.6 397.6L186.1 397.0L186.6 396.5L187.2 395.9L187.7 395.3L188.3 394.8L188.9 394.3L189.4 393.8L190.0 393.3L190.6 392.8L191.2 392.4L191.8 392.0L192.5 391.6L193.1 391.2L193.7 390.8L194.4 390.5L195.1 390.2L195.7 389.9L196.4 389.7L197.1 389.4L197.8 389.2L198.5 389.1L199.3 388.9L200.0 388.8L200.7 388.7L201.5 388.6L202.2 388.5L203.0 388.5L203.8 388.5L204.6 388.5L205.4 388.5L206.2 388.6L207.0 388.7L207.9 388.8L208.7 388.9L209.6 389.0L210.4 389.2L211.3 389.3L212.2 389.5L213.1 389.7L214.0 389.9L214.9 390.2L215.8 390.4L216.7 390.6L217.7 390.9L218.6 391.2L219.6 391.4L220.5 391.7L221.5 392.0L222.5 392.3L223.5 392.6L224.5 392.9L225.5 393.2L226.5 393.5L227.6 393.8L228.6 394.2L229.7 394.5L230.8 394.8L231.8 395.1L232.9 395.4L234.0 395.7L235.1 396.0L236.2 396.4L237.4 396.7L238.5 397.0L239.6 397.3L240.8 397.6L242.0 397.8L243.1 398.1L244.3 398.4L245.5 398.7L246.7 399.0L247.9 399.2L249.1 399.5L250.4 399.7L251.6 400.0L252.9 400.2L254.1 400.4L255.4 400.7L256.7 400.9L258.0 401.1L259.3 401.3L260.6 401.5L261.9 401.7L263.2 401.9L264.6 402.1L265.9 402.2L267.3 402.4L268.7 402.6L270.0 402.7L271.4 402.9L272.8 403.0L274.2 403.1L275.7 403.3L277.1 403.4L278.5 403.5L280.0 403.6L281.4 403.7L282.9 403.8L284.4 403.9L285.9 404.0L287.4 404.1L288.9 404.2L290.4 404.3L291.9 404.4L293.5 404.4L295.0 404.5L296.6 404.6L298.1 404.6L299.7 404.7L301.3 404.7L302.9 404.8L304.5 404.8L306.1 404.9L307.7 404.9L309.4 405.0L311.0 405.0L312.6 405.1L314.3 405.1L316.0 405.1L317.7 405.1L319.4 405.2L321.1 405.2L322.8 405.2L324.5 405.3" stroke="#000"/>
<path d="M33.5 405.6L33.9 405.6L34.3 405.6L34.6 405.6L35.0 405.6L35.5 405.6L35.9 405.6L36.3 405.6L36.7 405.6L37.2 405.6L37.7 405.6L38.1 405.6L38.6 405.6L39.1 405.6L39.6 405.6L40.1 405.6L40.6 405.6L41.1 405.6L41.7 405.6L42.2 405.6L42.8 405.6L43.4 405.6L43.9 405.6L44.5 405.6L45.1 405.6L45.7 405.6L46.3 405.6L47.0 405.6L47.6 405.6L48.2 405.6L48.9 405.6L49.6 405.6L50.2 405.6L50.9 405.6L51.6 405.6L52.3 405.6L53.0 405.6L53.8 405.6L54.5 405.6L55.2 405.6L56.0 405.6L56.7 405.6L57.5 405.6L58.3 405.6L59.1 405.6L59.9 405.6L60.7 405.6L61.5 405.6L62.4 405.6L63.2 405.6L64.1 405.6L64.9 405.6L65.8 405.6L66.7 405.6L67.6 405.6L68.5 405.6L69.4 405.6L70.3 405.6L71.2 405.6L72.2 405.6L73.1 405.6L74.1 405.6L75.0 405.6L76.0 405.6L77.0 405.6L78.0 405.6L79.0 405.6L80.0 405.6L81.0 405.6L82.1 405.6L83.1 405.6L84.2 405.6L85.3 405.6L86.3 405.6L87.4 405.6L88.5 405.6L89.6 405.6L90.7 405.6L91.9 405.6L93.0 405.6L94.1 405.6L95.3 405.6L96.5 405.6L97.6 405.6L98.8 405.6L100.0 405.6L101.2 405.6L102.4 405.6L103.6 405.6L104.9 405.6L106.1 405.6L107.4 405.6L108.6 405.6L109.9 405.6L111.2 405.6L112.5 405.6L113.8 405.6L115.1 405.6L116.4 405.6L117.7 405.6L119.1 405.6L120.4 405.6L121.8 405.6L123.2 405.6L124.5 405.6L125.9 405.6L127.3 405.6L128.7 405.6L130.2 405.6L131.6 405.6L133.0 405.6L134.5 405.6L135.9 405.6L137.4 405.6L138.9 405.6L140.4 405.6L141.9 405.6L143.4 405.6L144.9 405.6L146.4 405.6L148.0 405.6L149.5 405.6L151.1 405.6L152.6 405.6L154.2 405.6L155.8 405.6L157.4 405.6L159.0 405.6L160.6 405.6L162.2 405.6L163.9 405.6L165.5 405.6L167.1 405.6L168.8 405.6L170.5 405.6L172.2 405.6L173.9 405.6L175.6 405.6L177.3 405.6L179.0 405.6" stroke="#00ff00" stroke-dasharray="3 2.25"/>
<path d="M179.0 405.6L179.4 404.2L179.8 402.8L180.1 401.5L180.5 400.2L181.0 399.0L181.4 397.8L181.8 396.7L182.2 395.6L182.7 394.6L183.2 393.6L183.6 392.7L184.1 391.8L184.6 391.0L185.1 390.3L185.6 389.6L186.1 389.0L186.6 388.4L187.2 387.9L187.7 387.4L188.3 387.0L188.9 386.6L189.4 386.3L190.0 386.0L190.6 385.8L191.2 385.7L191.8 385.5L192.5 385.5L193.1 385.4L193.7 385.5L194.4 385.5L195.1 385.6L195.7 385.7L196.4 385.9L197.1 386.1L197.8 386.3L198.5 386.6L199.3 386.8L200.0 387.1L200.7 387.5L201.5 387.8L202.2 388.2L203.0 388.5L203.8 388.9L204.6 389.3L205.4 389.7L206.2 390.1L207.0 390.6L207.9 391.0L208.7 391.4L209.6 391.9L210.4 392.3L211.3 392.8L212.2 393.2L213.1 393.6L214.0 394.1L214.9 394.5L215.8 394.9L216.7 395.4L217.7 395.8L218.6 396.2L219.6 396.6L220.5 397.0L221.5 397.4L222.5 397.7L223.5 398.1L224.5 398.4L225.5 398.8L226.5 399.1L227.6 399.4L228.6 399.8L229.7 400.1L230.8 400.4L231.8 400.6L232.9 400.9L234.0 401.2L235.1 401.4L236.2 401.6L237.4 401.9L238.5 402.1L239.6 402.3L240.8 402.5L242.0 402.7L243.1 402.9L244.3 403.0L245.5 403.2L246.7 403.3L247.9 403.5L249.1 403.6L250.4 403.8L251.6 403.9L252.9 404.0L254.1 404.1L255.4 404.2L256.7 404.3L258.0 404.4L259.3 404.5L260.6 404.5L261.9 404.6L263.2 404.7L264.6 404.8L265.9 404.8L267.3 404.9L268.7 404.9L270.0 405.0L271.4 405.0L272.8 405.1L274.2 405.1L275.7 405.1L277.1 405.2L278.5 405.2L280.0 405.2L281.4 405.3L282.9 405.3L284.4 405.3L285.9 405.3L287.4 405.3L288.9 405.4L290.4 405.4L291.9 405.4L293.5 405.4L295.0 405.4L296.6 405.4L298.1 405.4L299.7 405.5L301.3 405.5L302.9 405.5L304.5 405.5L306.1 405.5L307.7 405.5L309.4 405.5L311.0 405.5L312.6 405.5L314.3 405.5L316.0 405.5L317.7 405.5L319.4 405.5L321.1 405.5L322.8 405.5L324.5 405.5" stroke="#00ff00" stroke-dasharray="3 2.25"/>
</g>
<text x="179.25" y="426.75" font-size="10" text-anchor="middle" textLength="96" lengthAdjust="spacing">Time <tspan font-style="italic">t</tspan> (in units of <tspan font-style="italic">T</tspan>)</text>
<g transform="translate(12.8,376.18) rotate(-90)">
<text x="0" y="0" font-size="10.3" textLength="100.2" lengthAdjust="spacing">Occupation probability</text>
<g transform="translate(104.00,0.00) scale(1.0)" fill="none" stroke="#111" stroke-linecap="round" stroke-linejoin="round"><path d="M3.9,-6.5 C3.6,-4.4 3.0,-2.1 2.3,-0.5 C2.2,-0.3 2.0,-0.2 1.8,-0.2" stroke-width="0.85"/><path d="M0.3,-5.1 C0.5,-6.2 1.9,-6.9 3.9,-6.9 C4.9,-6.9 5.6,-6.75 6.1,-6.5" stroke-width="0.6"/><path d="M5.6,-6.7 C6.5,-6.4 7.0,-5.8 7.0,-5.0 C7.0,-3.7 5.6,-2.9 3.3,-3.0" stroke-width="0.78"/><path d="M3.2,-8.5 L3.9,-9.2 L4.6,-8.5" stroke-width="0.45"/></g>
<path d="M114.50,-7.50C113.20,-5.80 112.60,-4.20 112.60,-2.50C112.60,-0.80 113.20,0.80 114.50,2.50" fill="none" stroke="#111" stroke-width="0.6"/><text x="115.20" y="0.00" font-size="11" font-style="italic">t</text><path d="M119.80,-7.50C121.10,-5.80 121.70,-4.20 121.70,-2.50C121.70,-0.80 121.10,0.80 119.80,2.50" fill="none" stroke="#111" stroke-width="0.6"/>
</g>
<rect x="266.3" y="97.7" width="52.69999999999999" height="61.10000000000001" fill="#fff" stroke="#333" stroke-width="0.5"/>
<path d="M269.1,106.70H283.9" stroke="#000" stroke-width="1.25"/>
<g transform="translate(287.00,111.40) scale(1.0)" fill="none" stroke="#111" stroke-linecap="round" stroke-linejoin="round"><path d="M3.9,-6.5 C3.6,-4.4 3.0,-2.1 2.3,-0.5 C2.2,-0.3 2.0,-0.2 1.8,-0.2" stroke-width="0.85"/><path d="M0.3,-5.1 C0.5,-6.2 1.9,-6.9 3.9,-6.9 C4.9,-6.9 5.6,-6.75 6.1,-6.5" stroke-width="0.6"/><path d="M5.6,-6.7 C6.5,-6.4 7.0,-5.8 7.0,-5.0 C7.0,-3.7 5.6,-2.9 3.3,-3.0" stroke-width="0.78"/><path d="M3.2,-8.5 L3.9,-9.2 L4.6,-8.5" stroke-width="0.45"/></g>
<path d="M294.2,110.70h4.5" stroke="#111" stroke-width="0.55"/>
<text x="299.2" y="112.65" font-size="7.2">3</text>
<path d="M306.30,103.90C305.00,105.60 304.40,107.20 304.40,108.90C304.40,110.60 305.00,112.20 306.30,113.90" fill="none" stroke="#111" stroke-width="0.6"/><text x="307.00" y="111.40" font-size="11" font-style="italic">t</text><path d="M311.60,103.90C312.90,105.60 313.50,107.20 313.50,108.90C313.50,110.60 312.90,112.20 311.60,113.90" fill="none" stroke="#111" stroke-width="0.6"/>
<path d="M269.1,121.05H283.9" stroke="#00ff00" stroke-width="1.25" stroke-dasharray="3 2.25"/>
<g transform="translate(287.00,125.75) scale(1.0)" fill="none" stroke="#111" stroke-linecap="round" stroke-linejoin="round"><path d="M3.9,-6.5 C3.6,-4.4 3.0,-2.1 2.3,-0.5 C2.2,-0.3 2.0,-0.2 1.8,-0.2" stroke-width="0.85"/><path d="M0.3,-5.1 C0.5,-6.2 1.9,-6.9 3.9,-6.9 C4.9,-6.9 5.6,-6.75 6.1,-6.5" stroke-width="0.6"/><path d="M5.6,-6.7 C6.5,-6.4 7.0,-5.8 7.0,-5.0 C7.0,-3.7 5.6,-2.9 3.3,-3.0" stroke-width="0.78"/><path d="M3.2,-8.5 L3.9,-9.2 L4.6,-8.5" stroke-width="0.45"/></g>
<path d="M294.2,125.05h4.5" stroke="#111" stroke-width="0.55"/>
<text x="299.2" y="127.00" font-size="7.2">2</text>
<path d="M306.30,118.25C305.00,119.95 304.40,121.55 304.40,123.25C304.40,124.95 305.00,126.55 306.30,128.25" fill="none" stroke="#111" stroke-width="0.6"/><text x="307.00" y="125.75" font-size="11" font-style="italic">t</text><path d="M311.60,118.25C312.90,119.95 313.50,121.55 313.50,123.25C313.50,124.95 312.90,126.55 311.60,128.25" fill="none" stroke="#111" stroke-width="0.6"/>
<path d="M269.1,135.40H283.9" stroke="#0000ff" stroke-width="1.25" stroke-dasharray="1.1 1.65"/>
<g transform="translate(287.00,140.10) scale(1.0)" fill="none" stroke="#111" stroke-linecap="round" stroke-linejoin="round"><path d="M3.9,-6.5 C3.6,-4.4 3.0,-2.1 2.3,-0.5 C2.2,-0.3 2.0,-0.2 1.8,-0.2" stroke-width="0.85"/><path d="M0.3,-5.1 C0.5,-6.2 1.9,-6.9 3.9,-6.9 C4.9,-6.9 5.6,-6.75 6.1,-6.5" stroke-width="0.6"/><path d="M5.6,-6.7 C6.5,-6.4 7.0,-5.8 7.0,-5.0 C7.0,-3.7 5.6,-2.9 3.3,-3.0" stroke-width="0.78"/><path d="M3.2,-8.5 L3.9,-9.2 L4.6,-8.5" stroke-width="0.45"/></g>
<path d="M294.2,139.40h4.5" stroke="#111" stroke-width="0.55"/>
<text x="299.2" y="141.35" font-size="7.2">1</text>
<path d="M306.30,132.60C305.00,134.30 304.40,135.90 304.40,137.60C304.40,139.30 305.00,140.90 306.30,142.60" fill="none" stroke="#111" stroke-width="0.6"/><text x="307.00" y="140.10" font-size="11" font-style="italic">t</text><path d="M311.60,132.60C312.90,134.30 313.50,135.90 313.50,137.60C313.50,139.30 312.90,140.90 311.60,142.60" fill="none" stroke="#111" stroke-width="0.6"/>
<path d="M269.1,149.75H283.9" stroke="#ff0000" stroke-width="1.25" stroke-dasharray="2.9 1.35 1.0 1.35"/>
<g transform="translate(287.00,154.45) scale(1.0)" fill="none" stroke="#111" stroke-linecap="round" stroke-linejoin="round"><path d="M3.9,-6.5 C3.6,-4.4 3.0,-2.1 2.3,-0.5 C2.2,-0.3 2.0,-0.2 1.8,-0.2" stroke-width="0.85"/><path d="M0.3,-5.1 C0.5,-6.2 1.9,-6.9 3.9,-6.9 C4.9,-6.9 5.6,-6.75 6.1,-6.5" stroke-width="0.6"/><path d="M5.6,-6.7 C6.5,-6.4 7.0,-5.8 7.0,-5.0 C7.0,-3.7 5.6,-2.9 3.3,-3.0" stroke-width="0.78"/><path d="M3.2,-8.5 L3.9,-9.2 L4.6,-8.5" stroke-width="0.45"/></g>
<text x="294.0" y="155.55" font-size="6.7">0</text>
<path d="M300.60,146.95C299.30,148.65 298.70,150.25 298.70,151.95C298.70,153.65 299.30,155.25 300.60,156.95" fill="none" stroke="#111" stroke-width="0.6"/><text x="301.30" y="154.45" font-size="11" font-style="italic">t</text><path d="M305.90,146.95C307.20,148.65 307.80,150.25 307.80,151.95C307.80,153.65 307.20,155.25 305.90,156.95" fill="none" stroke="#111" stroke-width="0.6"/>
<rect x="266.3" y="317.7" width="47.19999999999999" height="60.900000000000034" fill="#fff" stroke="#333" stroke-width="0.5"/>
<path d="M269.1,326.70H283.9" stroke="#ff0000" stroke-width="1.25" stroke-dasharray="2.9 1.35 1.0 1.35"/>
<g transform="translate(287.00,331.40) scale(1.0)" fill="none" stroke="#111" stroke-linecap="round" stroke-linejoin="round"><path d="M3.9,-6.5 C3.6,-4.4 3.0,-2.1 2.3,-0.5 C2.2,-0.3 2.0,-0.2 1.8,-0.2" stroke-width="0.85"/><path d="M0.3,-5.1 C0.5,-6.2 1.9,-6.9 3.9,-6.9 C4.9,-6.9 5.6,-6.75 6.1,-6.5" stroke-width="0.6"/><path d="M5.6,-6.7 C6.5,-6.4 7.0,-5.8 7.0,-5.0 C7.0,-3.7 5.6,-2.9 3.3,-3.0" stroke-width="0.78"/><path d="M3.2,-8.5 L3.9,-9.2 L4.6,-8.5" stroke-width="0.45"/></g>
<text x="294.0" y="332.50" font-size="6.7">1</text>
<path d="M300.60,323.90C299.30,325.60 298.70,327.20 298.70,328.90C298.70,330.60 299.30,332.20 300.60,333.90" fill="none" stroke="#111" stroke-width="0.6"/><text x="301.30" y="331.40" font-size="11" font-style="italic">t</text><path d="M305.90,323.90C307.20,325.60 307.80,327.20 307.80,328.90C307.80,330.60 307.20,332.20 305.90,333.90" fill="none" stroke="#111" stroke-width="0.6"/>
<path d="M269.1,341.05H283.9" stroke="#0000ff" stroke-width="1.25" stroke-dasharray="1.1 1.65"/>
<g transform="translate(287.00,345.75) scale(1.0)" fill="none" stroke="#111" stroke-linecap="round" stroke-linejoin="round"><path d="M3.9,-6.5 C3.6,-4.4 3.0,-2.1 2.3,-0.5 C2.2,-0.3 2.0,-0.2 1.8,-0.2" stroke-width="0.85"/><path d="M0.3,-5.1 C0.5,-6.2 1.9,-6.9 3.9,-6.9 C4.9,-6.9 5.6,-6.75 6.1,-6.5" stroke-width="0.6"/><path d="M5.6,-6.7 C6.5,-6.4 7.0,-5.8 7.0,-5.0 C7.0,-3.7 5.6,-2.9 3.3,-3.0" stroke-width="0.78"/><path d="M3.2,-8.5 L3.9,-9.2 L4.6,-8.5" stroke-width="0.45"/></g>
<text x="294.0" y="346.85" font-size="6.7">2</text>
<path d="M300.60,338.25C299.30,339.95 298.70,341.55 298.70,343.25C298.70,344.95 299.30,346.55 300.60,348.25" fill="none" stroke="#111" stroke-width="0.6"/><text x="301.30" y="345.75" font-size="11" font-style="italic">t</text><path d="M305.90,338.25C307.20,339.95 307.80,341.55 307.80,343.25C307.80,344.95 307.20,346.55 305.90,348.25" fill="none" stroke="#111" stroke-width="0.6"/>
<path d="M269.1,355.40H283.9" stroke="#000" stroke-width="1.25"/>
<g transform="translate(287.00,360.10) scale(1.0)" fill="none" stroke="#111" stroke-linecap="round" stroke-linejoin="round"><path d="M3.9,-6.5 C3.6,-4.4 3.0,-2.1 2.3,-0.5 C2.2,-0.3 2.0,-0.2 1.8,-0.2" stroke-width="0.85"/><path d="M0.3,-5.1 C0.5,-6.2 1.9,-6.9 3.9,-6.9 C4.9,-6.9 5.6,-6.75 6.1,-6.5" stroke-width="0.6"/><path d="M5.6,-6.7 C6.5,-6.4 7.0,-5.8 7.0,-5.0 C7.0,-3.7 5.6,-2.9 3.3,-3.0" stroke-width="0.78"/><path d="M3.2,-8.5 L3.9,-9.2 L4.6,-8.5" stroke-width="0.45"/></g>
<text x="294.0" y="361.20" font-size="6.7">3</text>
<path d="M300.60,352.60C299.30,354.30 298.70,355.90 298.70,357.60C298.70,359.30 299.30,360.90 300.60,362.60" fill="none" stroke="#111" stroke-width="0.6"/><text x="301.30" y="360.10" font-size="11" font-style="italic">t</text><path d="M305.90,352.60C307.20,354.30 307.80,355.90 307.80,357.60C307.80,359.30 307.20,360.90 305.90,362.60" fill="none" stroke="#111" stroke-width="0.6"/>
<path d="M269.1,369.75H283.9" stroke="#00ff00" stroke-width="1.25" stroke-dasharray="3 2.25"/>
<g transform="translate(287.00,374.45) scale(1.0)" fill="none" stroke="#111" stroke-linecap="round" stroke-linejoin="round"><path d="M3.9,-6.5 C3.6,-4.4 3.0,-2.1 2.3,-0.5 C2.2,-0.3 2.0,-0.2 1.8,-0.2" stroke-width="0.85"/><path d="M0.3,-5.1 C0.5,-6.2 1.9,-6.9 3.9,-6.9 C4.9,-6.9 5.6,-6.75 6.1,-6.5" stroke-width="0.6"/><path d="M5.6,-6.7 C6.5,-6.4 7.0,-5.8 7.0,-5.0 C7.0,-3.7 5.6,-2.9 3.3,-3.0" stroke-width="0.78"/><path d="M3.2,-8.5 L3.9,-9.2 L4.6,-8.5" stroke-width="0.45"/></g>
<text x="294.0" y="375.55" font-size="6.7">4</text>
<path d="M300.60,366.95C299.30,368.65 298.70,370.25 298.70,371.95C298.70,373.65 299.30,375.25 300.60,376.95" fill="none" stroke="#111" stroke-width="0.6"/><text x="301.30" y="374.45" font-size="11" font-style="italic">t</text><path d="M305.90,366.95C307.20,368.65 307.80,370.25 307.80,371.95C307.80,373.65 307.20,375.25 305.90,376.95" fill="none" stroke="#111" stroke-width="0.6"/>
</svg></body></html>
